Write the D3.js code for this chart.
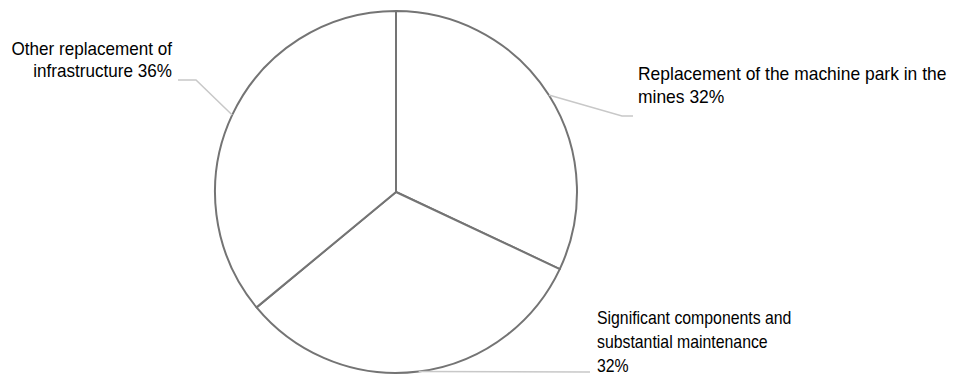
<!DOCTYPE html>
<html><head><meta charset="utf-8">
<script src="https://cdn.jsdelivr.net/npm/d3@7/dist/d3.min.js"></script>
<style>
html,body{margin:0;padding:0;background:#fff;}
svg text{font-family:"Liberation Sans Narrow","Arial Narrow","Liberation Sans",Arial,sans-serif;fill:#000;}
</style></head>
<body><svg id="c" width="954" height="376"></svg>
<script>
const categories = ["Replacement of the machine park in the mines", "Significant components and substantial maintenance", "Other replacement of infrastructure"];
const values = [32, 32, 36];
const labelLines = [
  ["Replacement of the machine park in the", "mines 32%"],
  ["Significant components and", "substantial maintenance", "32%"],
  ["Other replacement of", "infrastructure 36%"]
];

const W = 954, H = 376;
const cx = 396, cy = 192, R = 181;
const svg = d3.select("#c");
const g = svg.append("g").attr("transform", `translate(${cx},${cy})`);

const pie = d3.pie().sort(null).value(d => d)(values);
const arc = d3.arc().innerRadius(0).outerRadius(R);

g.selectAll("path.slice").data(pie).join("path")
  .attr("class", "slice")
  .attr("d", arc)
  .attr("fill", "#fff")
  .attr("stroke", "#747474")
  .attr("stroke-width", 2)
  .attr("stroke-linejoin", "round");

// label layout (relative to pie centre)
const layout = [
  {elbow: [226, -76], end: [237, -76], tx: 242, ty: -112, anchor: "start", lh: 23, sx: 0.97},
  {elbow: [190, 180], end: [194, 180], tx: 201, ty: 132, anchor: "start", lh: 24, sx: 0.88},
  {elbow: [-200, -112], end: [-218, -112], tx: -224, ty: -137, anchor: "end", lh: 22, sx: 0.95}
];

pie.forEach((p, i) => {
  const L = layout[i];
  const a = (p.startAngle + p.endAngle) / 2;
  const pt = [R * Math.sin(a), -R * Math.cos(a)];
  g.append("polyline")
    .attr("points", [pt, L.elbow, L.end].map(q => q.join(",")).join(" "))
    .attr("fill", "none")
    .attr("stroke", "#c8c8c8")
    .attr("stroke-width", 1.5);
  const t = g.append("text")
    .attr("transform", `translate(${L.tx},${L.ty}) scale(${L.sx},1)`)
    .attr("text-anchor", L.anchor)
    .attr("font-size", 18);
  labelLines[i].forEach((ln, k) => {
    t.append("tspan").attr("x", 0).attr("y", k * L.lh).text(ln);
  });
});
</script></body></html>
